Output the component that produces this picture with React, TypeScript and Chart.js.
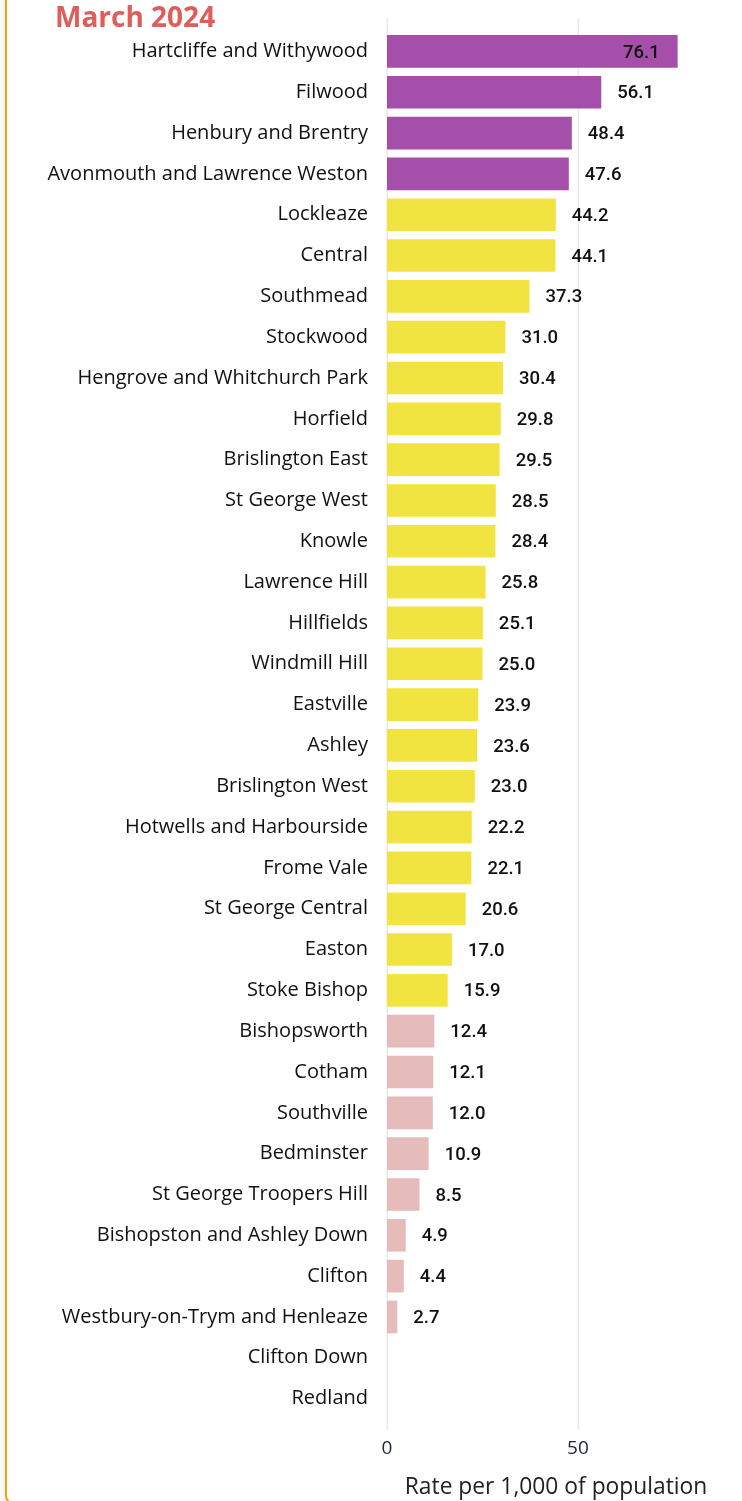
import React, { useEffect, useRef } from "react";
import { Chart, registerables } from "chart.js";

Chart.register(...registerables);

const categories: string[] = [
  "Hartcliffe and Withywood",
  "Filwood",
  "Henbury and Brentry",
  "Avonmouth and Lawrence Weston",
  "Lockleaze",
  "Central",
  "Southmead",
  "Stockwood",
  "Hengrove and Whitchurch Park",
  "Horfield",
  "Brislington East",
  "St George West",
  "Knowle",
  "Lawrence Hill",
  "Hillfields",
  "Windmill Hill",
  "Eastville",
  "Ashley",
  "Brislington West",
  "Hotwells and Harbourside",
  "Frome Vale",
  "St George Central",
  "Easton",
  "Stoke Bishop",
  "Bishopsworth",
  "Cotham",
  "Southville",
  "Bedminster",
  "St George Troopers Hill",
  "Bishopston and Ashley Down",
  "Clifton",
  "Westbury-on-Trym and Henleaze",
  "Clifton Down",
  "Redland",
];

const rates: (number | null)[] = [
  76.1, 56.1, 48.4, 47.6, 44.2, 44.1, 37.3, 31.0, 30.4, 29.8, 29.5, 28.5, 28.4,
  25.8, 25.1, 25.0, 23.9, 23.6, 23.0, 22.2, 22.1, 20.6, 17.0, 15.9, 12.4, 12.1,
  12.0, 10.9, 8.5, 4.9, 4.4, 2.7, null, null,
];

// colour tier for each ward
const tiers: string[] = [
  "high", "high", "high", "high",
  "mid", "mid", "mid", "mid", "mid", "mid", "mid", "mid", "mid", "mid",
  "mid", "mid", "mid", "mid", "mid", "mid", "mid", "mid", "mid", "mid",
  "low", "low", "low", "low", "low", "low", "low", "low", "low", "low",
];

const xTicks: number[] = [0, 50];
const xMax = 88.5;
const titleText = "March 2024";
const axisTitle = "Rate per 1,000 of population";

const tierColors: Record<string, string> = {
  high: "#A64FAA",
  mid: "#F2E440",
  low: "#E5BBBB",
};

const gridPlugin = {
  id: "customGrid",
  beforeDatasetsDraw(chart: any) {
    const { ctx, chartArea, scales } = chart;
    ctx.save();
    ctx.strokeStyle = "#E8E8E8";
    ctx.lineWidth = 1.5;
    for (const v of xTicks) {
      const x = Math.round(scales.x.getPixelForValue(v)) + 0.25;
      ctx.beginPath();
      ctx.moveTo(x, chartArea.top - 13);
      ctx.lineTo(x, chartArea.bottom + 11);
      ctx.stroke();
    }
    ctx.restore();
  },
};

const labelPlugin = {
  id: "barLabels",
  afterDatasetsDraw(chart: any) {
    const { ctx, chartArea } = chart;
    const meta = chart.getDatasetMeta(0);
    ctx.save();
    ctx.font = "500 18.5px Roboto";
    ctx.fillStyle = "#111111";
    ctx.textBaseline = "middle";
    meta.data.forEach((bar: any, i: number) => {
      const v = rates[i];
      if (v === null || v === undefined) return;
      const text = v.toFixed(1);
      const w = ctx.measureText(text).width;
      const outX = bar.x + 16;
      const y = bar.y + 1.5;
      if (outX + w > chartArea.right) {
        ctx.textAlign = "right";
        ctx.fillText(text, bar.x - 18, y);
      } else {
        ctx.textAlign = "left";
        ctx.fillText(text, outX, y);
      }
    });
    ctx.restore();
  },
};

export default function App() {
  const canvasRef = useRef<HTMLCanvasElement | null>(null);

  useEffect(() => {
    if (!canvasRef.current) return;
    const chart = new Chart(canvasRef.current, {
      type: "bar",
      data: {
        labels: categories,
        datasets: [
          {
            data: rates as any,
            backgroundColor: tiers.map((t) => tierColors[t]),
            categoryPercentage: 0.8,
            barPercentage: 1.0,
            borderWidth: 0,
          },
        ],
      },
      options: {
        indexAxis: "y",
        responsive: false,
        animation: false,
        layout: { padding: { top: 31, right: 17, bottom: 0, left: 0 } },
        plugins: {
          legend: { display: false },
          tooltip: { enabled: false },
          title: { display: false },
        },
        scales: {
          x: {
            type: "linear",
            min: 0,
            max: xMax,
            grid: { display: false, drawTicks: false },
            border: { display: false },
            afterBuildTicks: (scale: any) => {
              scale.ticks = xTicks.map((v) => ({ value: v }));
            },
            afterFit: (scale: any) => {
              scale.height = 82;
            },
            ticks: {
              padding: 18,
              color: "#1F2536",
              font: { family: "Open Sans", size: 19 },
            },
            title: {
              display: true,
              text: axisTitle,
              color: "#222222",
              font: { family: "Open Sans", size: 22.8 },
              padding: { top: 0, bottom: 0 },
            },
          },
          y: {
            type: "category",
            grid: { display: false, drawTicks: false },
            border: { display: false },
            afterFit: (scale: any) => {
              scale.width = 387;
            },
            ticks: {
              padding: 19,
              color: "#111111",
              autoSkip: false,
              font: { family: "Open Sans", size: 20 },
            },
          },
        },
      },
      plugins: [gridPlugin, labelPlugin],
    });
    return () => chart.destroy();
  }, []);

  return (
    <div
      style={{
        position: "absolute",
        left: 0,
        top: 0,
        width: 742,
        height: 1501,
        overflow: "hidden",
        background: "#ffffff",
      }}
    >
      <div
        style={{
          position: "absolute",
          left: 5,
          top: -20,
          width: 760,
          height: 1524,
          borderLeft: "2px solid #F0A30A",
          borderBottom: "2px solid #F0A30A",
          borderBottomLeftRadius: 8,
          boxShadow: "-3px 0 4px rgba(0,0,0,0.06)",
          boxSizing: "border-box",
        }}
      />
      <canvas
        ref={canvasRef}
        width={742}
        height={1501}
        style={{ position: "absolute", left: 0, top: 0, width: 742, height: 1501 }}
      />
      <div
        style={{
          position: "absolute",
          left: 55,
          top: -4,
          fontFamily: "Open Sans",
          fontWeight: 700,
          fontSize: 28,
          lineHeight: "40px",
          color: "#DF5E5B",
          whiteSpace: "nowrap",
        }}
      >
        {titleText}
      </div>
    </div>
  );
}
